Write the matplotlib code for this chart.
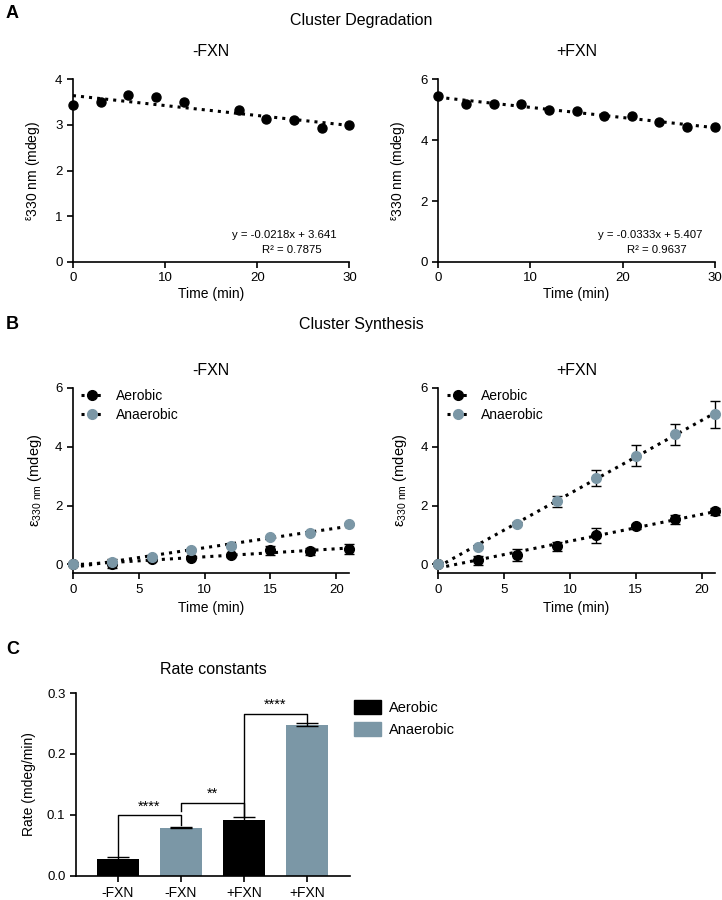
import numpy as np
import matplotlib
matplotlib.use('Agg')
import matplotlib.pyplot as plt
from matplotlib.patches import Patch

plt.rcParams['font.family'] = ['Liberation Sans', 'DejaVu Sans']
plt.rcParams['mathtext.fontset'] = 'custom'
plt.rcParams['mathtext.rm'] = 'Liberation Sans'
plt.rcParams['axes.linewidth'] = 1.2

BLACK = '#000000'
GREY = '#7b97a6'

# Panel A - cluster degradation
deg_minus_t = [0, 3, 6, 9, 12, 18, 21, 24, 27, 30]
deg_minus_y = [3.43, 3.51, 3.65, 3.60, 3.49, 3.32, 3.13, 3.11, 2.94, 3.00]
deg_minus_fit = (-0.0218, 3.641)
deg_minus_text = ['y = -0.0218x + 3.641', 'R² = 0.7875']

deg_plus_t = [0, 3, 6, 9, 12, 15, 18, 21, 24, 27, 30]
deg_plus_y = [5.44, 5.20, 5.20, 5.18, 5.00, 4.96, 4.80, 4.80, 4.60, 4.42, 4.43]
deg_plus_fit = (-0.0333, 5.407)
deg_plus_text = ['y = -0.0333x + 5.407', 'R² = 0.9637']

# Panel B - cluster synthesis
syn_t = [0, 3, 6, 9, 12, 15, 18, 21]
syn_minus_aer = [0.0, 0.02, 0.17, 0.23, 0.31, 0.48, 0.45, 0.53]
syn_minus_aer_err = [0.0, 0.15, 0.05, 0.05, 0.05, 0.15, 0.12, 0.18]
syn_minus_ana = [0.0, 0.08, 0.25, 0.48, 0.62, 0.93, 1.07, 1.38]
syn_minus_ana_err = [0.0, 0.03, 0.03, 0.03, 0.03, 0.03, 0.03, 0.03]
syn_plus_aer = [0.0, 0.14, 0.31, 0.62, 0.99, 1.30, 1.53, 1.81]
syn_plus_aer_err = [0.0, 0.15, 0.20, 0.15, 0.25, 0.08, 0.15, 0.12]
syn_plus_ana = [0.0, 0.59, 1.38, 2.14, 2.95, 3.70, 4.42, 5.10]
syn_plus_ana_err = [0.0, 0.03, 0.05, 0.20, 0.27, 0.37, 0.35, 0.45]

# Panel C - rate constants
rate_labels = ['-FXN', '-FXN', '+FXN', '+FXN']
rate_vals = [0.027, 0.079, 0.092, 0.248]
rate_err = [0.004, 0.001, 0.004, 0.003]
rate_colors = [BLACK, GREY, BLACK, GREY]
sig_pairs = [(0, 1, '****'), (1, 2, '**'), (2, 3, '****')]
sig_heights = [0.099, 0.120, 0.266]
sig_feet = [(0.033, 0.084), (0.106, 0.097), (0.096, 0.253)]

fig = plt.figure(figsize=(7.22, 9), dpi=100)

TICK = 9.5
LAB = 10


def style(ax):
    ax.spines['top'].set_visible(False)
    ax.spines['right'].set_visible(False)
    ax.tick_params(direction='out', length=4, width=1.2, labelsize=TICK)


eps_a = r'$^{\mathregular{ε}}$330 nm (mdeg)'
eps_b = r'ε$_{\mathregular{330\ nm}}$ (mdeg)'

# ---- A
for left, t, y, fit, txt, ymax, title in [
        (0.101, deg_minus_t, deg_minus_y, deg_minus_fit, deg_minus_text, 4, '-FXN'),
        (0.607, deg_plus_t, deg_plus_y, deg_plus_fit, deg_plus_text, 6, '+FXN')]:
    ax = fig.add_axes([left, 0.709, 0.383, 0.203])
    style(ax)
    xs = np.array([0, 30])
    ax.plot(xs, fit[0] * xs + fit[1], ':', color=BLACK, lw=2.2, zorder=2)
    ax.plot(t, y, 'o', color=BLACK, ms=6.5, zorder=3, clip_on=False)
    ax.set_xlim(0, 30)
    ax.set_ylim(0, ymax)
    ax.set_xticks([0, 10, 20, 30])
    ax.set_yticks(np.arange(0, ymax + 1, 1 if ymax == 4 else 2))
    ax.set_xlabel('Time (min)', fontsize=LAB, labelpad=2)
    ax.set_ylabel(eps_a, fontsize=LAB, labelpad=8)
    ax.set_title(title, fontsize=11.5, pad=17)
    ax.text(0.955, 0.13, txt[0], transform=ax.transAxes, ha='right', fontsize=8.2)
    ax.text(0.79, 0.05, txt[1], transform=ax.transAxes, ha='center', fontsize=8.2)

fig.text(0.5, 0.977, 'Cluster Degradation', ha='center', va='center', fontsize=11.5)
fig.text(0.008, 0.985, 'A', fontsize=13, fontweight='bold', va='center')

# ---- B
for left, aer, aer_e, ana, ana_e, title in [
        (0.101, syn_minus_aer, syn_minus_aer_err, syn_minus_ana, syn_minus_ana_err, '-FXN'),
        (0.607, syn_plus_aer, syn_plus_aer_err, syn_plus_ana, syn_plus_ana_err, '+FXN')]:
    ax = fig.add_axes([left, 0.363, 0.383, 0.206])
    style(ax)
    xs = np.array([0, 21])
    for vals, errs, col, lab in [(aer, aer_e, BLACK, 'Aerobic'), (ana, ana_e, GREY, 'Anaerobic')]:
        k, b = np.polyfit(syn_t, vals, 1)
        ax.plot(xs, k * xs + b, ':', color=BLACK, lw=2.2, zorder=2)
        ax.errorbar(syn_t, vals, yerr=errs, fmt='none', ecolor=BLACK, elinewidth=1,
                    capsize=3.5, capthick=1, zorder=3, clip_on=False)
        ax.plot(syn_t, vals, 'o', color=col, ms=7, zorder=4, clip_on=False)
        ax.plot([], [], ':o', color=BLACK, mfc=col, mec=col, lw=2.2, ms=7, label=lab)
    ax.set_xlim(0, 21)
    ax.set_ylim(-0.3, 6)
    ax.spines['left'].set_bounds(-0.3, 6)
    ax.set_xticks([0, 5, 10, 15, 20])
    ax.set_yticks([0, 2, 4, 6])
    ax.set_xlabel('Time (min)', fontsize=LAB, labelpad=4)
    ax.set_ylabel(eps_b, fontsize=10.5, labelpad=8)
    ax.set_title(title, fontsize=11.5, pad=9)
    ax.legend(loc='upper left', frameon=False, fontsize=LAB, handlelength=1.6,
              borderaxespad=0.2, labelspacing=0.35, handletextpad=0.9,
              bbox_to_anchor=(0.0, 1.04))

fig.text(0.5, 0.639, 'Cluster Synthesis', ha='center', va='center', fontsize=11.5)
fig.text(0.008, 0.639, 'B', fontsize=13, fontweight='bold', va='center')

# ---- C
ax = fig.add_axes([0.105, 0.027, 0.380, 0.203])
style(ax)
pos = np.arange(len(rate_vals))
ax.bar(pos, rate_vals, width=0.667, color=rate_colors, yerr=rate_err,
       error_kw=dict(ecolor=BLACK, elinewidth=1, capsize=8, capthick=1))
for (i, j, star), h, (fi, fj) in zip(sig_pairs, sig_heights, sig_feet):
    ax.plot([pos[i], pos[i], pos[j], pos[j]], [fi, h, h, fj], color=BLACK, lw=1)
    ax.text((pos[i] + pos[j]) / 2, h + 0.003, star, ha='center', va='bottom', fontsize=10.5)
ax.set_xlim(-0.667, 3.683)
ax.set_ylim(0, 0.3)
ax.set_yticks([0.0, 0.1, 0.2, 0.3])
ax.set_xticks(pos)
ax.set_xticklabels(rate_labels, fontsize=LAB)
ax.set_ylabel('Rate (mdeg/min)', fontsize=LAB, labelpad=8)
ax.set_title('Rate constants', fontsize=11.5, pad=14)
ax.legend(handles=[Patch(color=BLACK, label='Aerobic'), Patch(color=GREY, label='Anaerobic')],
          loc='upper left', bbox_to_anchor=(1.015, 0.962), frameon=False, fontsize=10.5,
          borderaxespad=0, borderpad=0, handlelength=1.8, handleheight=1.1,
          labelspacing=0.5, handletextpad=0.6)

fig.text(0.008, 0.278, 'C', fontsize=13, fontweight='bold', va='center')

fig.savefig('out.png', dpi=100)
